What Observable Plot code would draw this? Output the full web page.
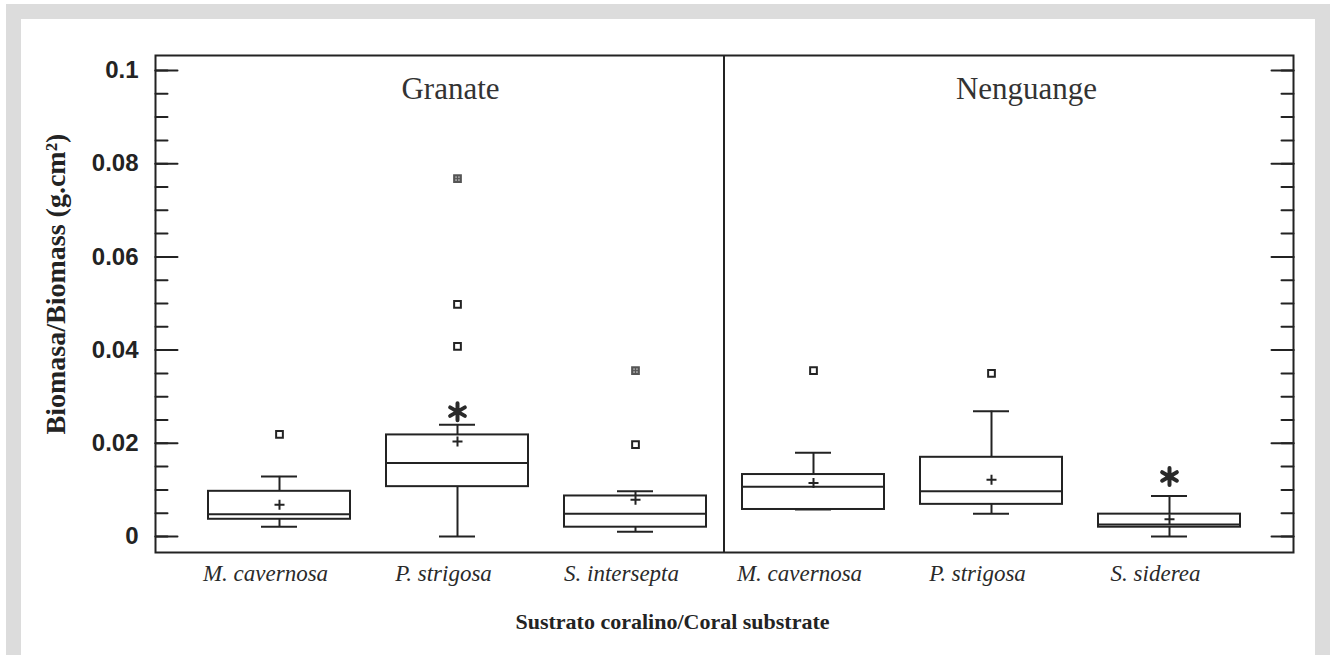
<!DOCTYPE html>
<html>
<head>
<meta charset="utf-8">
<script src="https://cdn.jsdelivr.net/npm/d3@7"></script>
<script src="https://cdn.jsdelivr.net/npm/@observablehq/plot@0.6"></script>
<style>
html, body { margin: 0; padding: 0; background: #fff; overflow: hidden; }
#wrap { position: relative; width: 1335px; height: 655px; }
#gray { position: absolute; left: 6px; top: 4px; width: 1324px; height: 651px; background: #dcdcdc; }
#white { position: absolute; left: 21px; top: 19px; width: 1294px; height: 636px; background: #fff; }
#chart { position: absolute; left: 0; top: 0; }
#chart svg { background: transparent !important; max-width: none !important; }
</style>
</head>
<body>
<div id="wrap"><div id="gray"></div><div id="white"></div><div id="chart"></div></div>
<script>
// ---- data ----
const sites   = ["Granate", "Granate", "Granate", "Nenguange", "Nenguange", "Nenguange"];
const species = ["M. cavernosa", "P. strigosa", "S. intersepta", "M. cavernosa", "P. strigosa", "S. siderea"];
const q1          = [0.0037, 0.0107, 0.0020, 0.0058, 0.0069, 0.0020];
const median      = [0.0048, 0.0158, 0.0049, 0.0107, 0.0097, 0.0026];
const q3          = [0.0097, 0.0218, 0.0087, 0.0133, 0.0170, 0.0048];
const whiskerLow  = [0.0021, 0.0000, 0.0010, 0.0058, 0.0049, 0.0000];
const whiskerHigh = [0.0129, 0.0240, 0.0097, 0.0180, 0.0269, 0.0087];
const mean        = [0.0068, 0.0204, 0.0079, 0.0115, 0.0122, 0.0037];
const outlierGroup = [0, 1, 1, 1, 2, 2, 3, 4];
const outlierValue = [0.0219, 0.0768, 0.0498, 0.0408, 0.0356, 0.0197, 0.0356, 0.0350];
const outlierFar   = [false, true, false, false, true, false, false, false];
const asteriskGroup = [1, 5];
const asteriskValue = [0.0268, 0.0129];
const siteTitles = ["Granate", "Nenguange"];
const yTicks = [0, 0.02, 0.04, 0.06, 0.08, 0.1];
const yTickLabels = ["0", "0.02", "0.04", "0.06", "0.08", "0.1"];
const minorTicks = [0, 0.005, 0.01, 0.015, 0.02, 0.025, 0.03, 0.035, 0.04, 0.045, 0.05,
                    0.055, 0.06, 0.065, 0.07, 0.075, 0.08, 0.085, 0.09, 0.095, 0.1];
const yTitle = "Biomasa/Biomass (g.cm²)";
const xTitle = "Sustrato coralino/Coral substrate";

// ---- derived tables ----
const keys = species.map((s, i) => `${sites[i]}|${s}`);
const boxes = keys.map((k, i) => ({key: k, q1: q1[i], median: median[i], q3: q3[i],
  lo: whiskerLow[i], hi: whiskerHigh[i], mean: mean[i]}));
const outliers = outlierGroup.map((g, i) => ({key: keys[g], value: outlierValue[i], far: outlierFar[i]}));
const stars = asteriskGroup.map((g, i) => ({key: keys[g], value: asteriskValue[i]}));

const ink = "#232323";
const serif = "'Liberation Serif', 'Times New Roman', serif";
const sans = "'Liberation Sans', Arial, sans-serif";

const plusSymbol = {draw(ctx, size) { const r = Math.sqrt(size / Math.PI);
  ctx.moveTo(-r, 0); ctx.lineTo(r, 0); ctx.moveTo(0, -r); ctx.lineTo(0, r); }};
const starSymbol = {draw(ctx, size) { const r = Math.sqrt(size / Math.PI);
  for (const a of [90, 30, 150]) { const t = a * Math.PI / 180;
    ctx.moveTo(r * Math.cos(t), r * Math.sin(t)); ctx.lineTo(-r * Math.cos(t), -r * Math.sin(t)); } }};
const tickShape = {draw(ctx, l) { ctx.moveTo(0, 0); ctx.lineTo(0, -l); }};

const tickOpts = {y: d => d, anchor: "start", shape: tickShape, stroke: ink, strokeWidth: 2};

const plot = Plot.plot({
  width: 1335, height: 655,
  marginLeft: 155, marginRight: 42, marginTop: 55, marginBottom: 103,
  style: {background: "transparent", color: ink},
  x: {type: "band", domain: keys, paddingInner: 0, paddingOuter: 0.18, label: null},
  y: {domain: [-0.00343, 0.10322], label: null},
  marks: [
    // ticks inside frame
    Plot.vector(minorTicks, {...tickOpts, frameAnchor: "left", rotate: 90, length: 12}),
    Plot.vector(yTicks, {...tickOpts, frameAnchor: "left", rotate: 90, length: 22}),
    Plot.vector(minorTicks, {...tickOpts, frameAnchor: "right", rotate: -90, length: 12}),
    Plot.vector(yTicks, {...tickOpts, frameAnchor: "right", rotate: -90, length: 22}),
    Plot.frame({stroke: ink, strokeWidth: 2}),
    // divider between sites
    Plot.ruleX([keys[3]], {x: d => d, render: (I, scales, values, dims) => {
      const px = scales.x(keys[3]);
      return d3.create("svg:line").attr("x1", px).attr("x2", px)
        .attr("y1", dims.marginTop).attr("y2", dims.height - dims.marginBottom)
        .attr("stroke", ink).attr("stroke-width", 2).node();
    }}),
    // axes labels
    Plot.axisY({ticks: yTicks, tickSize: 0, tickPadding: 17,
      tickFormat: d => yTickLabels[yTicks.indexOf(d)],
      fontSize: 24, fontWeight: "bold", fontFamily: sans, fill: ink}),
    Plot.axisX({tickSize: 0, tickPadding: 12, label: null,
      tickFormat: k => species[keys.indexOf(k)], dx: -14,
      fontSize: 23, fontStyle: "italic", fontFamily: serif, fill: "#2a2a2a"}),
    // whiskers
    Plot.ruleX(boxes, {x: "key", y1: "q3", y2: "hi", stroke: ink, strokeWidth: 2}),
    Plot.ruleX(boxes, {x: "key", y1: "lo", y2: "q1", stroke: ink, strokeWidth: 2}),
    Plot.tickY(boxes, {x: "key", y: "hi", insetLeft: 71, insetRight: 71, stroke: ink, strokeWidth: 2}),
    Plot.tickY(boxes, {x: "key", y: "lo", insetLeft: 71, insetRight: 71, stroke: ink, strokeWidth: 2}),
    // boxes
    Plot.barY(boxes, {x: "key", y1: "q1", y2: "q3", fill: "white", stroke: ink, strokeWidth: 2,
      insetLeft: 18, insetRight: 18}),
    Plot.tickY(boxes, {x: "key", y: "median", insetLeft: 18, insetRight: 18, stroke: ink, strokeWidth: 2}),
    // means
    Plot.dot(boxes, {x: "key", y: "mean", symbol: plusSymbol, r: 5, fill: "none", stroke: ink, strokeWidth: 2}),
    // outliers
    Plot.dot(outliers.filter(d => !d.far), {x: "key", y: "value", symbol: "square", r: 3.8,
      fill: "white", stroke: ink, strokeWidth: 2}),
    Plot.dot(outliers.filter(d => d.far), {x: "key", y: "value", symbol: "square", r: 3.8,
      fill: "#9a9a9a", stroke: "#555", strokeWidth: 2}),
    Plot.dot(outliers.filter(d => d.far), {x: "key", y: "value", symbol: plusSymbol, r: 3,
      fill: "none", stroke: "#555", strokeWidth: 1}),
    // asterisks
    Plot.dot(stars, {x: "key", y: "value", symbol: starSymbol, r: 8.5, fill: "none", stroke: "#2a2a2a",
      strokeWidth: 4, strokeLinecap: "round"}),
    // site titles
    Plot.text([{key: keys[1], label: siteTitles[0]}], {x: "key", text: "label", frameAnchor: "top",
      dy: 34, dx: -7, lineAnchor: "middle", fontSize: 31, fontFamily: serif, fill: "#333"}),
    Plot.text([{key: keys[4], label: siteTitles[1]}], {x: "key", text: "label", frameAnchor: "top",
      dy: 34, dx: 35, lineAnchor: "middle", fontSize: 31, fontFamily: serif, fill: "#333"}),
    // axis titles
    Plot.text([yTitle], {frameAnchor: "left", rotate: -90, dx: -99, dy: -20, lineAnchor: "middle",
      textAnchor: "middle", fontSize: 28, fontWeight: "bold", fontFamily: serif, fill: ink}),
    Plot.text([xTitle], {frameAnchor: "bottom", dx: -52, dy: 69, lineAnchor: "middle",
      fontSize: 22, fontWeight: "bold", fontFamily: serif, fill: ink})
  ]
});
document.getElementById("chart").appendChild(plot);
</script>
</body>
</html>
